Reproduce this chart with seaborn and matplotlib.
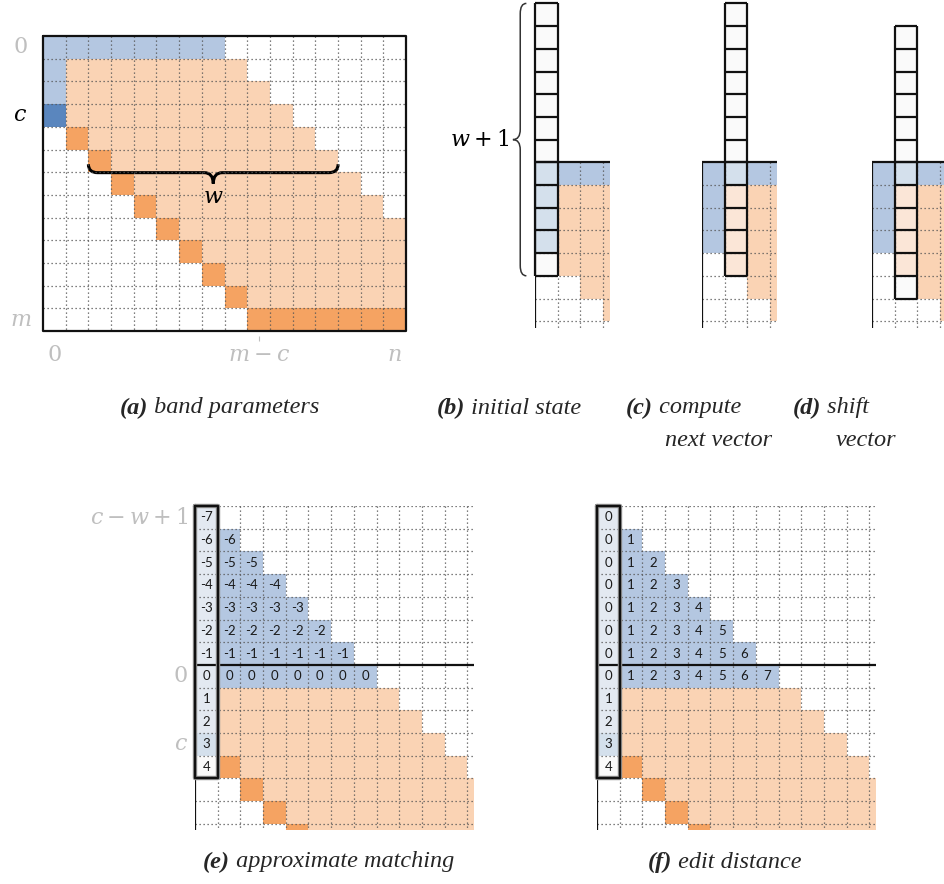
import numpy as np
import matplotlib
matplotlib.use("Agg")
import matplotlib.pyplot as plt
from matplotlib.colors import ListedColormap
from matplotlib.path import Path
from matplotlib.patches import PathPatch
import seaborn as sns

sns.set_theme(style="white")
plt.rcParams["font.family"] = ["DejaVu Sans"]
plt.rcParams["mathtext.fontset"] = "dejavuserif"

# ---------------- data ----------------
# cell kinds: "." empty, B band-top (blue), D row c (dark blue), P band (peach),
# O diagonal/last row (orange), w vector blank, b vector blue, p vector peach,
# g vector grey-blue, " " not drawn
KIND_CODES = {".": 0, "B": 1, "D": 2, "P": 3, "O": 4, "w": 5, "b": 6, "p": 7, "g": 8}
KIND_COLORS = ["#ffffff", "#b4c7e1", "#5a86be", "#fad3b4", "#f5a362",
               "#fafafa", "#d4e0ec", "#fbe6d7", "#e3e9f1"]

band_a = [
    "BBBBBBBB........",
    "BPPPPPPPP.......",
    "BPPPPPPPPP......",
    "DPPPPPPPPPP.....",
    ".OPPPPPPPPPP....",
    "..OPPPPPPPPPP...",
    "...OPPPPPPPPPP..",
    "....OPPPPPPPPPP.",
    ".....OPPPPPPPPPP",
    "......OPPPPPPPPP",
    ".......OPPPPPPPP",
    "........OPPPPPPP",
    ".........OOOOOOO",
]
rows_a_labels = [r"$0$", "", "", r"$c$", "", "", "", "", "", "", "", "", r"$m$"]
cols_a_labels = {0: r"$0$", 9: r"$m-c$", 15: r"$n$"}

state_b = [
    "w   ", "w   ", "w   ", "w   ", "w   ", "w   ", "w   ",
    "bBBB", "bPPP", "bPPP", "bPPP", "wPPP", "..PP", "...P", "....",
]
state_c = [
    " w  ", " w  ", " w  ", " w  ", " w  ", " w  ", " w  ",
    "BbBB", "BpPP", "BpPP", "BpPP", ".pPP", "..PP", "...P", "....",
]
state_d = [
    "    ", " w  ", " w  ", " w  ", " w  ", " w  ", " w  ",
    "BbBB", "BpPP", "BpPP", "BpPP", ".pPP", ".wPP", "...P", "....",
]
vector_col_b, vector_col_c, vector_col_d = 0, 1, 1
vector_rows_b = (0, 12)
vector_rows_c = (0, 12)
vector_rows_d = (1, 13)

state_ef = [
    "g............",
    "gB...........",
    "gBB..........",
    "gBBB.........",
    "gBBBB........",
    "gBBBBB.......",
    "gBBBBBB......",
    "gBBBBBBB.....",
    "gPPPPPPPP....",
    "gPPPPPPPPP...",
    "bPPPPPPPPPP..",
    "wOPPPPPPPPPP.",
    "..OPPPPPPPPPP",
    "...OPPPPPPPPP",
    "....OPPPPPPPP",
]
labels_e = [
    ["-7"],
    ["-6", "-6"],
    ["-5", "-5", "-5"],
    ["-4", "-4", "-4", "-4"],
    ["-3", "-3", "-3", "-3", "-3"],
    ["-2", "-2", "-2", "-2", "-2", "-2"],
    ["-1", "-1", "-1", "-1", "-1", "-1", "-1"],
    ["0", "0", "0", "0", "0", "0", "0", "0"],
    ["1"], ["2"], ["3"], ["4"], [], [], [],
]
labels_f = [
    ["0"],
    ["0", "1"],
    ["0", "1", "2"],
    ["0", "1", "2", "3"],
    ["0", "1", "2", "3", "4"],
    ["0", "1", "2", "3", "4", "5"],
    ["0", "1", "2", "3", "4", "5", "6"],
    ["0", "1", "2", "3", "4", "5", "6", "7"],
    ["1"], ["2"], ["3"], ["4"], [], [], [],
]

captions = [
    ("(a)", " band parameters", 120, 408),
    ("(b)", " initial state", 437, 408),
    ("(c)", " compute", 626, 408),
    ("(d)", " shift", 793, 408),
    ("(e)", " approximate matching", 203, 862),
    ("(f)", " edit distance", 648, 862),
]
caption_lines2 = [("next vector", 665, 441), ("vector", 836, 441)]

# ---------------- layout ----------------
W, H = 945, 884
S = 22.7          # cell size in pixels
GRAY = "#bfbfbf"
DOT = dict(color="#555555", lw=0.9, linestyle=(0, (1, 2.2)))
SOLID = dict(color="#111111", lw=1.6)

fig = plt.figure(figsize=(W / 100, H / 100), dpi=100)
cmap = ListedColormap(KIND_COLORS)


def add_panel(x0, y0, ncols_vis, nrows_vis):
    return fig.add_axes([x0 / W, 1 - (y0 + nrows_vis * S) / H,
                         ncols_vis * S / W, nrows_vis * S / H])


def draw_cells(ax, rows, labels, xmax, ymax):
    codes = np.array([[KIND_CODES.get(ch, 0) for ch in r] for r in rows], float)
    mask = np.array([[ch == " " for ch in r] for r in rows])
    annot = False
    if labels is not None:
        annot = np.full(codes.shape, "", dtype=object)
        for i, lab in enumerate(labels):
            for j, t in enumerate(lab):
                annot[i, j] = t
    sns.heatmap(codes, mask=mask, cmap=cmap, vmin=-0.5, vmax=len(KIND_COLORS) - 0.5,
                cbar=False, annot=annot, fmt="",
                annot_kws=dict(fontsize=9.5, family="Lato", color="#1a1a1a"),
                xticklabels=False, yticklabels=False, ax=ax)
    ax.set_xlim(0, xmax)
    ax.set_ylim(ymax, 0)
    ax.axis("off")


def brace(ax, p0, p1, depth, horizontal, r=0.4, **kw):
    # curly brace between p0 and p1; depth: signed offset of spine & cusp
    if horizontal:
        (x0, y), (x1, _) = p0, p1
        xm = (x0 + x1) / 2
        yb, yc = y + depth, y + 2.3 * depth
        verts = [(x0, y), (x0, yb), (x0 + r, yb), (xm - r, yb), (xm, yb), (xm, yc),
                 (xm, yb), (xm + r, yb), (x1 - r, yb), (x1, yb), (x1, y)]
    else:
        (x, y0), (_, y1) = p0, p1
        ym = (y0 + y1) / 2
        xb, xc = x + depth, x + 2.2 * depth
        verts = [(x, y0), (xb, y0), (xb, y0 + r), (xb, ym - r), (xb, ym), (xc, ym),
                 (xb, ym), (xb, ym + r), (xb, y1 - r), (xb, y1), (x, y1)]
    codes = [Path.MOVETO, Path.CURVE3, Path.CURVE3, Path.LINETO, Path.CURVE3, Path.CURVE3,
             Path.CURVE3, Path.CURVE3, Path.LINETO, Path.CURVE3, Path.CURVE3]
    ax.add_patch(PathPatch(Path(verts, codes), fill=False, clip_on=False, **kw))


MATH = dict(fontsize=16, ha="center", va="center")

# ---- panel (a) ----
ax_a = add_panel(43, 36, 16, 13)
draw_cells(ax_a, band_a, None, 16, 13)
ax_a.hlines(np.arange(1, 13), 0, 16, **DOT)
ax_a.vlines(np.arange(1, 16), 0, 13, **DOT)
ax_a.plot([0, 16, 16, 0, 0], [0, 0, 13, 13, 0], clip_on=False, **SOLID)
for i, lab in enumerate(rows_a_labels):
    if lab:
        ax_a.text(-1.0, i + 0.5, lab, color=("black" if lab == r"$c$" else GRAY), **MATH)
for j, lab in cols_a_labels.items():
    ax_a.text(j + 0.5, 14.05, lab, color=GRAY, **MATH)
ax_a.vlines(9.5, 13.2, 13.45, color=GRAY, lw=0.8, clip_on=False)
brace(ax_a, (2, 5.65), (13, 5.65), 0.37, True, r=0.4, color="black", lw=2.2)
ax_a.text(7.5, 7.1, r"$w$", color="black", **MATH)


# ---- panels (b), (c), (d) ----
def state_panel(x0, rows, vcol, vrows, xmax=3.3):
    ax = add_panel(x0, 162.3 - 7 * S, xmax, 14.3)
    draw_cells(ax, rows, None, xmax, 14.3)
    ax.hlines(np.arange(8, 15), 0, xmax, **DOT)
    ax.vlines(np.arange(1, 4), 7, 14.3, **DOT)
    ax.hlines(7, 0, xmax, **SOLID)
    ax.vlines(0, 7, 14.3, **SOLID)
    ya, yb = vrows
    ax.hlines(np.arange(ya, yb + 1), vcol, vcol + 1, clip_on=False, **SOLID)
    ax.vlines([vcol, vcol + 1], ya, yb, clip_on=False, **SOLID)
    return ax


ax_b = state_panel(535, state_b, vector_col_b, vector_rows_b)
ax_c = state_panel(702, state_c, vector_col_c, vector_rows_c)
ax_d = state_panel(872, state_d, vector_col_d, vector_rows_d)
brace(ax_b, (-0.38, 0.0), (-0.38, 12.0), -0.27, False, r=0.45, color="#333333", lw=1.1)
ax_b.text(-1.15, 6.0, r"$w+1$", color="black", fontsize=16, ha="right", va="center")


# ---- panels (e), (f) ----
def dp_panel(x0, labels, side_labels):
    ax = add_panel(x0, 506, 12.3, 14.27)
    draw_cells(ax, state_ef, labels, 12.3, 14.27)
    ax.hlines([y for y in range(0, 15) if y != 7], 0, 12.3, **DOT)
    ax.vlines(np.arange(1, 13), 0, 14.27, **DOT)
    ax.hlines(7, 0, 12.3, **SOLID)
    ax.vlines(0, 0, 14.27, **SOLID)
    ax.plot([0, 1, 1, 0, 0], [0, 0, 12, 12, 0], color="#999999", lw=3.2, clip_on=False)
    ax.plot([0, 1, 1, 0, 0], [0, 0, 12, 12, 0], color="#111111", lw=1.7, clip_on=False)
    for (y, lab) in side_labels:
        ax.text(-0.3, y, lab, color=GRAY, fontsize=16, ha="right", va="center")
    return ax


side = [(0.5, r"$c-w+1$"), (7.5, r"$0$"), (10.5, r"$c$")]
ax_e = dp_panel(195, labels_e, side)
ax_f = dp_panel(597, labels_f, [])

# ---- captions ----
ax_t = fig.add_axes([0, 0, 1, 1], zorder=-1)
ax_t.set_xlim(0, W)
ax_t.set_ylim(H, 0)
ax_t.axis("off")
CAP = dict(family="Liberation Serif", style="italic", fontsize=17.5)
for tag, rest, x, y in captions:
    t = ax_t.text(x, y, tag, fontweight="bold", ha="left", va="center", **CAP)
    ax_t.annotate(rest, xy=(1, 0.5), xycoords=t, ha="left", va="center", **CAP)
for txt, x, y in caption_lines2:
    ax_t.text(x, y, txt, ha="left", va="center", **CAP)

fig.savefig("out.png", dpi=100, facecolor="white")
